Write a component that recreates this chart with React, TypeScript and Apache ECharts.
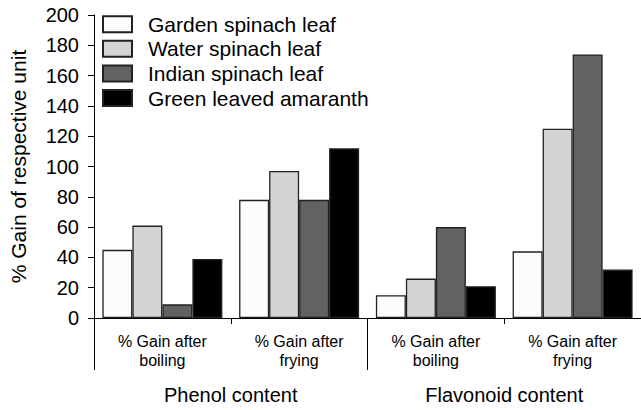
import React, { useEffect, useRef } from "react";
import * as echarts from "echarts";

const categories = ["% Gain after\nboiling", "% Gain after\nfrying", "% Gain after\nboiling", "% Gain after\nfrying"];
const groups = ["Phenol content", "Flavonoid content"];
const seriesNames = ["Garden spinach leaf", "Water spinach leaf", "Indian spinach leaf", "Green leaved amaranth"];
const gardenSpinach = [45, 78, 15, 44];
const waterSpinach = [61, 97, 26, 125];
const indianSpinach = [9, 78, 60, 174];
const amaranth = [39, 112, 21, 32];
const seriesValues = [gardenSpinach, waterSpinach, indianSpinach, amaranth];
const colors = ["#fcfcfc", "#d4d4d4", "#626262", "#000000"];
const yTicks = { min: 0, max: 200, interval: 20 };

const FONT = "'Liberation Sans', Arial, Helvetica, sans-serif";

export default function App() {
  const ref = useRef<HTMLDivElement>(null);
  useEffect(() => {
    if (!ref.current) return;
    const chart = echarts.init(ref.current, undefined, { renderer: "svg" });
    chart.setOption({
      animation: false,
      backgroundColor: "#ffffff",
      textStyle: { fontFamily: FONT },
      legend: {
        orient: "vertical",
        left: 102,
        top: 13.7,
        padding: 0,
        itemWidth: 29,
        itemHeight: 16,
        itemGap: 3.6,
        icon: "rect",
        selectedMode: false,
        textStyle: { fontSize: 21, lineHeight: 20, color: "#000", fontFamily: FONT, padding: [0, 0, 0, 11] },
        data: seriesNames,
      },
      grid: { left: 91, top: 15, bottom: 92, width: 553, containLabel: false },
      xAxis: [
        {
          type: "category",
          data: categories,
          position: "bottom",
          axisLine: { show: true, lineStyle: { color: "#000", width: 1 } },
          axisTick: { show: true, length: 6, lineStyle: { color: "#000" } },
          axisLabel: {
            interval: 0,
            margin: 14,
            fontSize: 16,
            lineHeight: 19,
            color: "#000",
            fontFamily: FONT,
          },
        },
        {
          type: "category",
          data: groups,
          position: "bottom",
          axisLine: { show: false },
          axisTick: { show: true, length: 52, lineStyle: { color: "#000" } },
          axisLabel: {
            interval: 0,
            margin: 67,
            fontSize: 20,
            lineHeight: 20,
            color: "#000",
            fontFamily: FONT,
          },
        },
      ],
      yAxis: {
        type: "value",
        min: yTicks.min,
        max: yTicks.max,
        interval: yTicks.interval,
        name: "% Gain of respective unit",
        nameLocation: "middle",
        nameGap: 65,
        nameTextStyle: { fontSize: 21, color: "#000", fontFamily: FONT },
        axisLine: { show: true, lineStyle: { color: "#000", width: 1 } },
        axisTick: { show: true, length: 6, lineStyle: { color: "#000" } },
        splitLine: { show: false },
        axisLabel: { margin: 15, fontSize: 20, color: "#000", fontFamily: FONT },
      },
      series: seriesNames.map((name, i) => ({
        name,
        type: "bar",
        xAxisIndex: 0,
        data: seriesValues[i],
        barWidth: 30,
        barGap: "0%",
        itemStyle: { color: colors[i], borderColor: "#222", borderWidth: 1.3 },
      })),
    });
    return () => chart.dispose();
  }, []);
  return <div ref={ref} style={{ width: 641, height: 410, position: "absolute", left: 0, top: 0 }} />;
}
